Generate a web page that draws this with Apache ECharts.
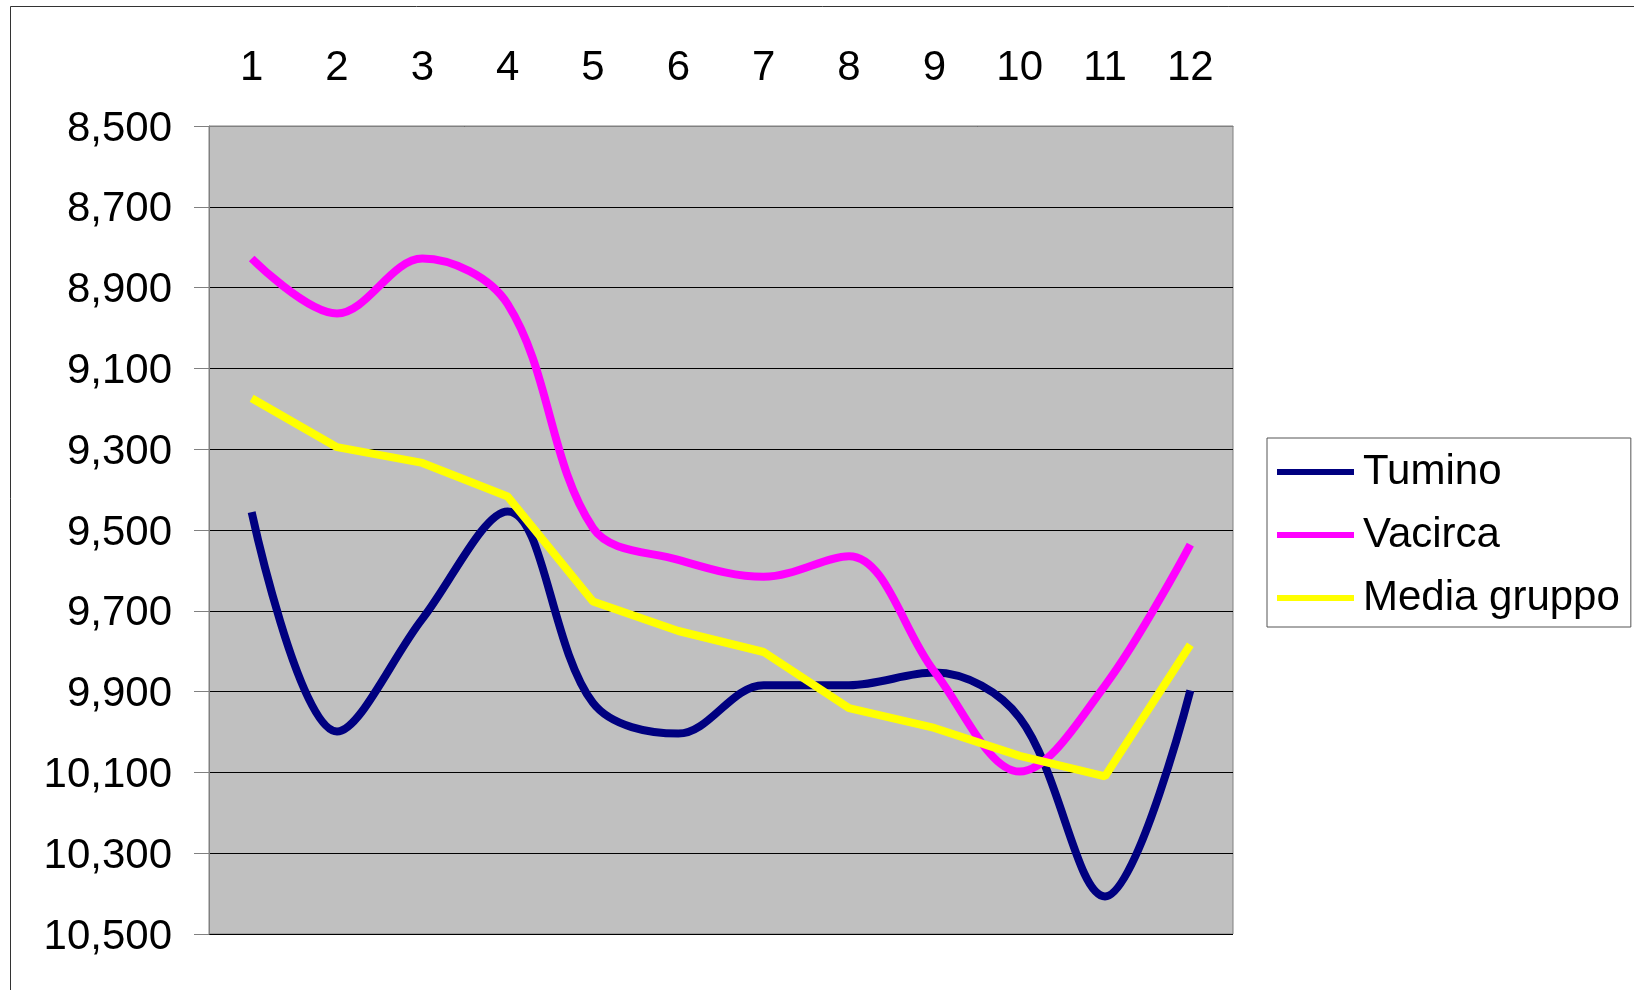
<!DOCTYPE html>
<html>
<head>
<meta charset="utf-8">
<script src="https://cdn.jsdelivr.net/npm/echarts@6/dist/echarts.min.js"></script>
<style>
  html, body { margin: 0; padding: 0; background: #fff; }
  #chart { width: 1634px; height: 990px; }
</style>
</head>
<body>
<div id="chart"></div>
<script>
// mesi 1..12
var categories = ['1', '2', '3', '4', '5', '6', '7', '8', '9', '10', '11', '12'];
var tumino = [9456, 9999, 9720, 9454, 9928, 10004, 9884, 9884, 9853, 9965, 10407, 9897];
var vacirca = [8828, 8964, 8828, 8941, 9495, 9574, 9616, 9565, 9850, 10098, 9885, 9536];
var mediaGruppo = [9174, 9295, 9334, 9417, 9677, 9750, 9802, 9941, 9990, 10059, 10110, 9784];

var yMin = 8500;
var yMax = 10500;
var yStep = 200;

var font = 'Liberation Sans, Arial, sans-serif';

var chart = echarts.init(document.getElementById('chart'));

var option = {
    animation: false,
    backgroundColor: '#fff',
    graphic: [{
        type: 'rect',
        shape: { x: 10.5, y: 6.5, width: 2000, height: 2000 },
        style: { fill: 'none', stroke: '#333', lineWidth: 1 },
        silent: true
    }],
    grid: {
        left: 209,
        top: 126,
        width: 1024,
        height: 808,
        show: true,
        backgroundColor: '#C0C0C0',
        borderColor: '#808080',
        borderWidth: 1
    },
    legend: {
        orient: 'vertical',
        left: 1267,
        top: 438,
        padding: [13, 11, 8, 10],
        itemGap: 21,
        itemWidth: 77,
        itemHeight: 6,
        icon: 'rect',
        backgroundColor: '#fff',
        borderColor: '#555',
        borderWidth: 1,
        borderRadius: 0,
        textStyle: {
            fontFamily: font,
            fontSize: 42,
            lineHeight: 41,
            color: '#000',
            padding: [0, 0, 0, 4]
        },
        data: ['Tumino', 'Vacirca', 'Media gruppo']
    },
    xAxis: {
        type: 'category',
        position: 'top',
        data: categories,
        boundaryGap: true,
        axisLine: { lineStyle: { color: '#808080', width: 1 } },
        axisTick: { length: 13, lineStyle: { color: '#808080' } },
        axisLabel: {
            margin: 37,
            fontFamily: font,
            fontSize: 42,
            lineHeight: 41,
            color: '#000'
        },
        splitLine: { show: false }
    },
    yAxis: {
        type: 'value',
        inverse: true,
        min: yMin,
        max: yMax,
        interval: yStep,
        axisLine: { show: true, lineStyle: { color: '#808080', width: 1 } },
        axisTick: { show: true, length: 15, lineStyle: { color: '#808080' } },
        axisLabel: {
            margin: 37,
            fontFamily: font,
            fontSize: 42,
            lineHeight: 6,
            verticalAlign: 'top',
            color: '#000',
            formatter: function (v) {
                return v.toString().replace(/\B(?=(\d{3})+(?!\d))/g, ',');
            }
        },
        splitLine: { show: true, lineStyle: { color: '#000', width: 1 } }
    },
    series: [
        {
            name: 'Tumino',
            type: 'line',
            data: tumino,
            smooth: 0.35,
            showSymbol: false,
            symbol: 'none',
            itemStyle: { color: '#000080' },
            lineStyle: { color: '#000080', width: 8 }
        },
        {
            name: 'Vacirca',
            type: 'line',
            data: vacirca,
            smooth: 0.35,
            showSymbol: false,
            symbol: 'none',
            itemStyle: { color: '#FF00FF' },
            lineStyle: { color: '#FF00FF', width: 8 }
        },
        {
            name: 'Media gruppo',
            type: 'line',
            data: mediaGruppo,
            showSymbol: false,
            symbol: 'none',
            itemStyle: { color: '#FFFF00' },
            lineStyle: { color: '#FFFF00', width: 8 }
        }
    ]
};

chart.setOption(option);
</script>
</body>
</html>
